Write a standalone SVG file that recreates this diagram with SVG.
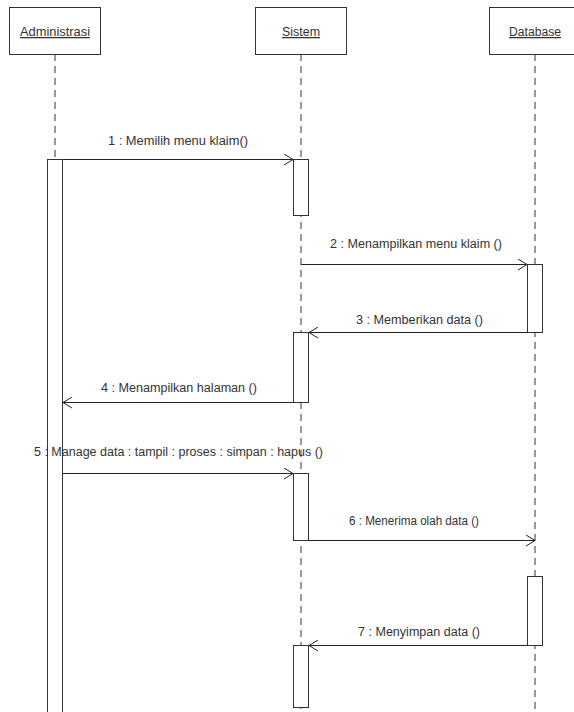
<svg xmlns="http://www.w3.org/2000/svg" width="574" height="712" viewBox="0 0 574 712">
  <style>
    .box { fill: #ffffff; stroke: #333333; stroke-width: 1; }
    .life { stroke: #333333; stroke-width: 1; stroke-dasharray: 7 5; fill: none; }
    .act { fill: #ffffff; stroke: #333333; stroke-width: 1; }
    .msg { stroke: #222222; stroke-width: 1; fill: none; marker-end: url(#open); }
    .hdr { font-family: "Liberation Sans", Arial, sans-serif; font-size: 12.5px; fill: #333333; text-anchor: middle; text-decoration: underline; }
    .lbl { font-family: "Liberation Sans", Arial, sans-serif; font-size: 12.5px; fill: #333333; }
  </style>
  <defs>
    <marker id="open" markerWidth="12" markerHeight="12" refX="10" refY="6" orient="auto" markerUnits="userSpaceOnUse">
      <path d="M1,0.5 L10,6 L1,11.5" fill="none" stroke="#222222" stroke-width="1"/>
    </marker>
  </defs>
  <rect width="574" height="712" fill="#ffffff"/>

  <g id="lifelines">
    <line class="life" x1="55" y1="54" x2="55" y2="712"/>
    <line class="life" x1="301" y1="54" x2="301" y2="712"/>
    <line class="life" x1="535" y1="54" x2="535" y2="712"/>
  </g>

  <g id="administrasi">
    <rect class="box" x="9.5" y="7.5" width="91" height="47"/>
    <text class="hdr" x="55" y="36" textLength="70" lengthAdjust="spacingAndGlyphs">Administrasi</text>
  </g>
  <g id="sistem">
    <rect class="box" x="255.5" y="7.5" width="91" height="47"/>
    <text class="hdr" x="301" y="36" textLength="38" lengthAdjust="spacingAndGlyphs">Sistem</text>
  </g>
  <g id="database">
    <rect class="box" x="489.5" y="7.5" width="91" height="47"/>
    <text class="hdr" x="535" y="36" textLength="52" lengthAdjust="spacingAndGlyphs">Database</text>
  </g>

  <g id="activations">
    <rect class="act" x="47.5" y="159.5" width="15" height="560"/>
    <rect class="act" x="293.5" y="159.5" width="15" height="56"/>
    <rect class="act" x="527.5" y="264.5" width="15" height="68"/>
    <rect class="act" x="293.5" y="332.5" width="15" height="70"/>
    <rect class="act" x="293.5" y="473.5" width="15" height="67"/>
    <rect class="act" x="527.5" y="576.5" width="15" height="69"/>
    <rect class="act" x="293.5" y="645.5" width="15" height="62"/>
  </g>

  <g id="connectors">
    <line class="msg" x1="63" y1="159.5" x2="293" y2="159.5"/>
    <line class="msg" x1="301" y1="264.5" x2="527" y2="264.5"/>
    <line class="msg" x1="527" y1="332.5" x2="309" y2="332.5"/>
    <line class="msg" x1="293" y1="402.5" x2="63" y2="402.5"/>
    <line class="msg" x1="63" y1="473.5" x2="293" y2="473.5"/>
    <line class="msg" x1="309" y1="540.5" x2="535" y2="540.5"/>
    <line class="msg" x1="527" y1="645.5" x2="309" y2="645.5"/>
  </g>

  <g id="labels">
    <text class="lbl" x="108" y="145" textLength="140" lengthAdjust="spacingAndGlyphs">1 : Memilih menu klaim()</text>
    <text class="lbl" x="330" y="248" textLength="172" lengthAdjust="spacingAndGlyphs">2 : Menampilkan menu klaim ()</text>
    <text class="lbl" x="356" y="324" textLength="127" lengthAdjust="spacingAndGlyphs">3 : Memberikan data ()</text>
    <text class="lbl" x="101" y="392" textLength="156" lengthAdjust="spacingAndGlyphs">4 : Menampilkan halaman ()</text>
    <text class="lbl" x="34" y="456" textLength="289" lengthAdjust="spacingAndGlyphs">5 : Manage data : tampil : proses : simpan : hapus ()</text>
    <text class="lbl" x="349" y="525" textLength="130" lengthAdjust="spacingAndGlyphs">6 : Menerima olah data ()</text>
    <text class="lbl" x="358" y="636" textLength="122" lengthAdjust="spacingAndGlyphs">7 : Menyimpan data ()</text>
  </g>
</svg>
